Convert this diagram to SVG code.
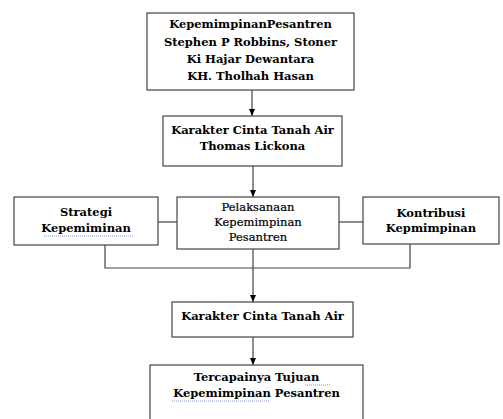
<svg xmlns="http://www.w3.org/2000/svg" width="503" height="419" viewBox="0 0 503 419">
<defs>
<marker id="ah" markerWidth="7" markerHeight="6" refX="7" refY="3" orient="auto" markerUnits="userSpaceOnUse" viewBox="0 0 7 6">
<path d="M0,0 L7,3 L0,6 Z" fill="#000"/>
</marker>
</defs>
<style>
.box{fill:#fff;stroke:#444;stroke-width:1.2}
.t{font-family:"DejaVu Serif","Liberation Serif",serif;font-weight:bold;font-size:11.5px;text-anchor:middle;fill:#000}
.r{font-family:"DejaVu Serif","Liberation Serif",serif;font-size:11.5px;text-anchor:middle;fill:#000;stroke:#000;stroke-width:0.2}
.c{fill:none;stroke:#444;stroke-width:1.2}
.sq{fill:none;stroke:#6a7fd0;stroke-width:0.8;stroke-dasharray:1 1}
</style>
<rect width="503" height="419" fill="#fff"/>
<g id="connectors">
<line class="c" x1="252" y1="90" x2="252" y2="116" marker-end="url(#ah)"/>
<line class="c" x1="253" y1="166" x2="253" y2="197" marker-end="url(#ah)"/>
<line class="c" x1="158" y1="222" x2="177" y2="222"/>
<line class="c" x1="339" y1="222" x2="363" y2="222"/>
<polyline class="c" points="105,245 105,268 410,268 410,244"/>
<line class="c" x1="253" y1="249" x2="253" y2="302" marker-end="url(#ah)"/>
<line class="c" x1="253" y1="337" x2="253" y2="365" marker-end="url(#ah)"/>
</g>
<g id="n1">
<rect class="box" x="147" y="13" width="207" height="77"/>
<text class="t" x="250.5" y="28">KepemimpinanPesantren</text>
<text class="t" x="250.5" y="46">Stephen P Robbins, Stoner</text>
<text class="t" x="250.5" y="63">Ki Hajar Dewantara</text>
<text class="t" x="250.5" y="80">KH. Tholhah Hasan</text>
</g>
<g id="n2">
<rect class="box" x="163" y="116" width="179" height="50"/>
<text class="t" x="252.5" y="134">Karakter Cinta Tanah Air</text>
<text class="t" x="252.5" y="150">Thomas Lickona</text>
</g>
<g id="n3">
<rect class="box" x="14" y="197" width="144" height="48"/>
<text class="t" x="86" y="216">Strategi</text>
<text class="t" x="86" y="232">Kepemiminan</text>
<line class="sq" x1="44" y1="236" x2="134" y2="236"/>
</g>
<g id="n4">
<rect class="box" x="177" y="197" width="162" height="52"/>
<text class="r" x="258" y="211">Pelaksanaan</text>
<text class="r" x="258" y="226">Kepemimpinan</text>
<text class="r" x="258" y="241">Pesantren</text>
</g>
<g id="n5">
<rect class="box" x="363" y="197" width="136" height="47"/>
<text class="t" x="431" y="217">Kontribusi</text>
<text class="t" x="431" y="232">Kepmimpinan</text>
</g>
<g id="n6">
<rect class="box" x="172" y="302" width="181" height="35"/>
<text class="t" x="262.5" y="320">Karakter Cinta Tanah Air</text>
</g>
<g id="n7">
<rect class="box" x="150" y="365" width="213" height="70"/>
<text class="t" x="256.5" y="381">Tercapainya Tujuan</text>
<text class="t" x="256.5" y="397">Kepemimpinan Pesantren</text>
<line class="sq" x1="305" y1="385" x2="330" y2="385"/>
<line class="sq" x1="172" y1="401" x2="270" y2="401"/>
</g>
</svg>
